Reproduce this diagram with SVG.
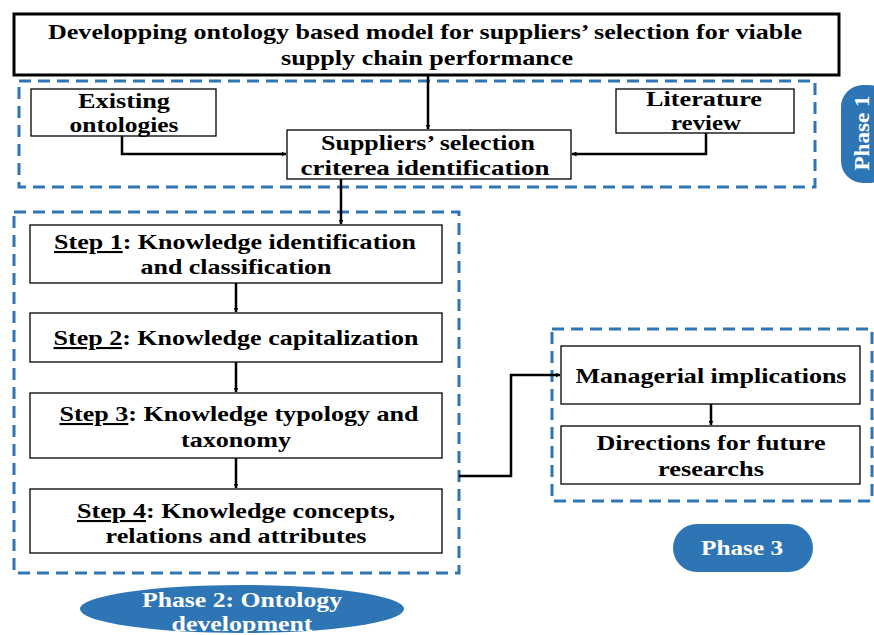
<svg xmlns="http://www.w3.org/2000/svg" width="874" height="635" viewBox="0 0 874 635">
<defs>
<marker id="ah" viewBox="0 0 10 10" refX="9" refY="5" markerWidth="5" markerHeight="5" orient="auto" markerUnits="userSpaceOnUse">
<path d="M0,0 L10,5 L0,10 z" fill="#000"/>
</marker>
<style>
.box{fill:#fff;stroke:#000;stroke-width:1.3}
.title{fill:#fff;stroke:#000;stroke-width:3}
.dash{fill:none;stroke:#2e75b6;stroke-width:3;stroke-dasharray:12,7}
.t{font-family:"Liberation Serif","Times New Roman",serif;font-weight:bold;font-size:21px;fill:#000;text-anchor:middle}
.w{font-family:"Liberation Serif","Times New Roman",serif;font-weight:bold;font-size:21px;fill:#fff;text-anchor:middle}
.c{fill:none;stroke:#000;stroke-width:2.5;marker-end:url(#ah)}
.pill{fill:#2e75b6}
</style>
</defs>
<rect width="874" height="635" fill="#fff"/>
<g id="phase1-frame"><rect class="dash" x="19" y="81" width="796" height="106"/></g>
<g id="phase2-frame"><rect class="dash" x="14" y="212" width="445" height="361"/></g>
<g id="phase3-frame"><rect class="dash" x="552" y="329" width="320" height="172"/></g>
<g id="title"><rect class="title" x="14" y="14" width="825" height="61"/>
<text class="t" x="425" y="39" textLength="754" lengthAdjust="spacingAndGlyphs" style="font-size:22px">Developping ontology based model for suppliers’ selection for viable</text>
<text class="t" x="427" y="65" textLength="292" lengthAdjust="spacingAndGlyphs" style="font-size:22px">supply chain performance</text></g>
<g id="existing"><rect class="box" x="31" y="89" width="185" height="47"/>
<text class="t" x="124" y="108" textLength="92" lengthAdjust="spacingAndGlyphs">Existing</text><text class="t" x="124" y="132" textLength="109" lengthAdjust="spacingAndGlyphs">ontologies</text></g>
<g id="literature"><rect class="box" x="616" y="89" width="178" height="44"/>
<text class="t" x="704" y="106" textLength="116" lengthAdjust="spacingAndGlyphs">Literature</text><text class="t" x="706" y="130" textLength="70" lengthAdjust="spacingAndGlyphs">review</text></g>
<g id="criteria"><rect class="box" x="287" y="130" width="284" height="49"/>
<text class="t" x="428" y="150" textLength="214" lengthAdjust="spacingAndGlyphs">Suppliers’ selection</text><text class="t" x="425" y="175" textLength="249" lengthAdjust="spacingAndGlyphs">criterea identification</text></g>
<g id="step1"><rect class="box" x="30" y="225" width="412" height="58"/>
<text class="t" x="235" y="249" textLength="362" lengthAdjust="spacingAndGlyphs"><tspan text-decoration="underline">Step 1</tspan>: Knowledge identification</text>
<text class="t" x="236" y="274" textLength="191" lengthAdjust="spacingAndGlyphs">and classification</text></g>
<g id="step2"><rect class="box" x="30" y="313" width="412" height="49"/>
<text class="t" x="236" y="345" textLength="365" lengthAdjust="spacingAndGlyphs"><tspan text-decoration="underline">Step 2</tspan>: Knowledge capitalization</text></g>
<g id="step3"><rect class="box" x="30" y="393" width="412" height="65"/>
<text class="t" x="239" y="421" textLength="359" lengthAdjust="spacingAndGlyphs"><tspan text-decoration="underline">Step 3</tspan>: Knowledge typology and</text>
<text class="t" x="236" y="447" textLength="110" lengthAdjust="spacingAndGlyphs">taxonomy</text></g>
<g id="step4"><rect class="box" x="30" y="489" width="412" height="64"/>
<text class="t" x="236" y="518" textLength="318" lengthAdjust="spacingAndGlyphs"><tspan text-decoration="underline">Step 4</tspan>: Knowledge concepts,</text>
<text class="t" x="236" y="543" textLength="261" lengthAdjust="spacingAndGlyphs">relations and attributes</text></g>
<g id="managerial"><rect class="box" x="561" y="346" width="299" height="58"/>
<text class="t" x="711" y="383" textLength="271" lengthAdjust="spacingAndGlyphs">Managerial implications</text></g>
<g id="directions"><rect class="box" x="561" y="426" width="299" height="58"/>
<text class="t" x="711" y="450" textLength="229" lengthAdjust="spacingAndGlyphs">Directions for future</text><text class="t" x="711" y="476" textLength="106" lengthAdjust="spacingAndGlyphs">researchs</text></g>
<g id="phase1-label"><rect class="pill" x="841" y="85" width="50" height="98" rx="22"/>
<text class="w" transform="translate(864,133) rotate(-90)" y="5" textLength="75" lengthAdjust="spacingAndGlyphs" style="font-size:20px">Phase 1</text></g>
<g id="phase2-label"><ellipse class="pill" cx="242" cy="609" rx="162" ry="24"/>
<text class="w" x="242" y="607" textLength="200" lengthAdjust="spacingAndGlyphs">Phase 2: Ontology</text><text class="w" x="242" y="631" textLength="141" lengthAdjust="spacingAndGlyphs">development</text></g>
<g id="phase3-label"><rect class="pill" x="673" y="524" width="140" height="48" rx="24"/>
<text class="w" x="742" y="555" textLength="82" lengthAdjust="spacingAndGlyphs">Phase 3</text></g>
<g id="connectors">
<path class="c" d="M428,75 V129"/>
<path class="c" d="M122,136 V154 H286"/>
<path class="c" d="M706,133 V154 H572"/>
<path class="c" d="M341,179 V224"/>
<path class="c" d="M236,283 V312"/>
<path class="c" d="M236,362 V392"/>
<path class="c" d="M236,458 V488"/>
<path class="c" d="M459,476 H511 V375 H560"/>
<path class="c" d="M711,404 V425"/>
</g>
</svg>
